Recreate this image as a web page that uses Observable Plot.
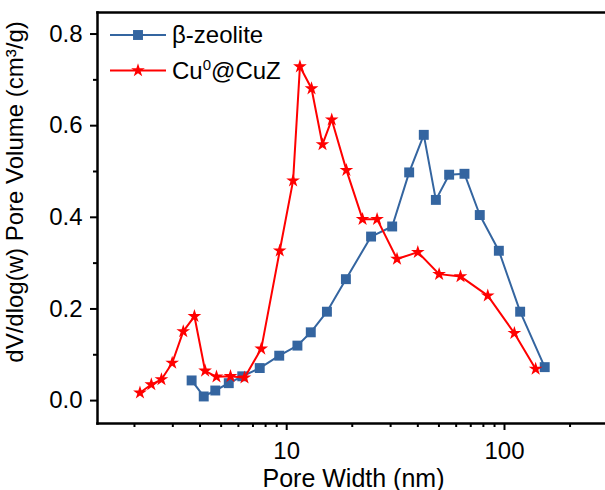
<!DOCTYPE html>
<html><head><meta charset="utf-8">
<script src="https://cdn.jsdelivr.net/npm/d3@7"></script>
<script src="https://cdn.jsdelivr.net/npm/@observablehq/plot@0.6"></script>
<style>
body{margin:0;background:#fff;}
#wrap{position:relative;width:605px;height:490px;font-family:"Liberation Sans",Arial,sans-serif;}
</style></head><body><div id="wrap"></div>
<script>
const seriesNames = ["β-zeolite", "Cu⁰@CuZ"];
const betaX = [3.66, 4.16, 4.70, 5.42, 6.25, 7.52, 9.24, 11.2, 12.9, 15.3, 18.7, 24.4, 30.5, 36.5, 42.6, 48.4, 55.7, 65.5, 77.0, 94.2, 118, 153];
const betaY = [0.044, 0.009, 0.022, 0.038, 0.053, 0.071, 0.098, 0.120, 0.149, 0.194, 0.265, 0.358, 0.380, 0.498, 0.580, 0.438, 0.493, 0.495, 0.405, 0.327, 0.194, 0.073];
const cuX = [2.12, 2.39, 2.66, 2.98, 3.35, 3.77, 4.22, 4.76, 5.52, 6.40, 7.64, 9.29, 10.7, 11.5, 13.0, 14.6, 16.1, 18.8, 22.3, 26.0, 32.1, 40.0, 50.1, 62.8, 83.8, 111, 139];
const cuY = [0.017, 0.035, 0.046, 0.082, 0.151, 0.184, 0.065, 0.052, 0.053, 0.050, 0.113, 0.327, 0.480, 0.729, 0.681, 0.559, 0.613, 0.503, 0.396, 0.396, 0.309, 0.324, 0.276, 0.271, 0.229, 0.147, 0.069];
const xMajorTicks = [10, 100];
const xMinorTicks = [2, 3, 4, 5, 6, 7, 8, 9, 20, 30, 40, 50, 60, 70, 80, 90, 200];
const yMajorTicks = [0, 0.2, 0.4, 0.6, 0.8];
const yMinorTicks = [0.1, 0.3, 0.5, 0.7];
const xLabel = "Pore Width (nm)";
const yLabel = "dV/dlog(w) Pore Volume (cm³/g)";

const blue = "#3465a0", red = "#ff0000";
const beta = betaX.map((x, i) => ({x, y: betaY[i]}));
const cu = cuX.map((x, i) => ({x, y: cuY[i]}));
const font = '"Liberation Sans", Arial, sans-serif';

const plot = Plot.plot({
  width: 605, height: 490,
  marginLeft: 97, marginTop: 12, marginBottom: 67, marginRight: 0,
  style: {fontFamily: font, fontSize: "24px", background: "white", color: "black", overflow: "visible"},
  x: {type: "log", domain: [1.353, 290.9]},
  y: {domain: [-0.05, 0.847]},
  marks: [
    Plot.axisX({ticks: xMinorTicks, tickSize: 4, strokeWidth: 2, tickFormat: () => "", label: null}),
    Plot.axisX({ticks: xMajorTicks, tickSize: 7, strokeWidth: 2, tickPadding: 11, tickFormat: d => String(d), label: null, fontSize: 24}),
    Plot.axisY({ticks: yMinorTicks, tickSize: 4, strokeWidth: 2, tickFormat: () => "", label: null}),
    Plot.axisY({ticks: yMajorTicks, tickSize: 7, strokeWidth: 2, tickPadding: 8, tickFormat: d3.format(".1f"), label: null, fontSize: 24}),
    Plot.frame({anchor: "top", strokeWidth: 2.5}),
    Plot.frame({anchor: "left", strokeWidth: 2.5}),
    Plot.frame({anchor: "bottom", strokeWidth: 2.5}),
    Plot.text([yLabel], {frameAnchor: "left", textAnchor: "middle", lineAnchor: "middle", rotate: -90, dx: -82, dy: -26, fontSize: 24, text: d => d}),
    Plot.text([xLabel], {frameAnchor: "bottom", textAnchor: "middle", lineAnchor: "middle", dy: 55, dx: 2, fontSize: 25, text: d => d}),
    Plot.line(beta, {x: "x", y: "y", stroke: blue, strokeWidth: 2}),
    Plot.dot(beta, {x: "x", y: "y", symbol: "square", r: 5.6, fill: blue, stroke: "none"}),
    Plot.line(cu, {x: "x", y: "y", stroke: red, strokeWidth: 2}),
    Plot.dot(cu, {x: "x", y: "y", symbol: "star", r: 4.3, fill: red, stroke: "none"})
  ]
});
document.getElementById("wrap").appendChild(plot);

// legend overlay
const leg = d3.select("#wrap").append("svg")
  .attr("width", 605).attr("height", 490)
  .style("position", "absolute").style("left", "0px").style("top", "0px")
  .style("pointer-events", "none");
const rows = [
  {name: seriesNames[0], color: blue, sym: d3.symbolSquare, size: Math.PI * 5.6 * 5.6},
  {name: seriesNames[1], color: red, sym: d3.symbolStar, size: Math.PI * 4.3 * 4.3}
];
rows.forEach((r, i) => {
  const cy = 35 + i * 35.5;
  const g = leg.append("g");
  g.append("line").attr("x1", 110).attr("x2", 166).attr("y1", cy).attr("y2", cy)
    .attr("stroke", r.color).attr("stroke-width", 2);
  g.append("path").attr("transform", `translate(138,${cy})`)
    .attr("d", d3.symbol(r.sym, r.size)()).attr("fill", r.color);
  const t = g.append("text").attr("x", 172).attr("y", cy + 8)
    .attr("font-family", font).attr("font-size", 24).attr("fill", "black");
  const parts = r.name.split(/([⁰¹²³⁴⁵⁶⁷⁸⁹])/);
  const supMap = {"⁰":"0","¹":"1","²":"2","³":"3","⁴":"4","⁵":"5","⁶":"6","⁷":"7","⁸":"8","⁹":"9"};
  let raised = false;
  parts.forEach(p => {
    if (!p) return;
    if (supMap[p] !== undefined) {
      t.append("tspan").attr("dy", -9).attr("font-size", 15).text(supMap[p]);
      raised = true;
    } else {
      const s = t.append("tspan").text(p);
      if (raised) { s.attr("dy", 9); raised = false; }
    }
  });
});
</script></body></html>
